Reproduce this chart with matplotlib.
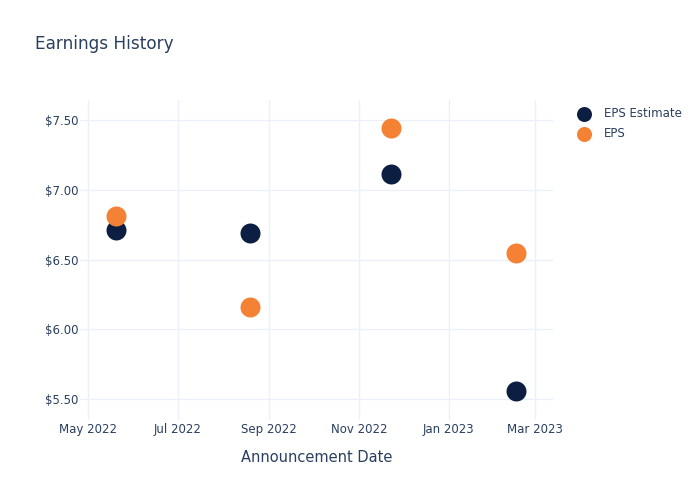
import matplotlib
matplotlib.use("Agg")
import matplotlib.pyplot as plt
import matplotlib.dates as mdates
import numpy as np
from datetime import datetime

# Announcement dates and EPS values
dates = ["2022-05-20", "2022-08-19", "2022-11-23", "2023-02-16"]
eps_estimate = [6.71, 6.69, 7.11, 5.56]
eps_actual = [6.81, 6.16, 7.44, 6.55]

x_dates = [datetime.strptime(d, "%Y-%m-%d") for d in dates]

text_color = "#2a3f5f"
grid_color = "#ebf0f8"
navy = "#0c1f42"
orange = "#f58134"

fig = plt.figure(figsize=(7, 5), dpi=100)
ax = fig.add_axes([80 / 700, 1 - 420 / 500, (553 - 80) / 700, 320 / 500])

ax.scatter(x_dates, eps_estimate, s=14.4 ** 2, color=navy, label="EPS Estimate", zorder=3, linewidths=0)
ax.scatter(x_dates, eps_actual, s=14.4 ** 2, color=orange, label="EPS", zorder=3, linewidths=0)

ax.set_xlim(datetime(2022, 4, 25, 10), datetime(2023, 3, 13))
ax.set_ylim(5.352, 7.643)
ax.set_yticks([5.5, 6.0, 6.5, 7.0, 7.5])
ax.yaxis.set_major_formatter(plt.FuncFormatter(lambda v, p: f"${v:.2f}"))
ax.xaxis.set_major_locator(mdates.MonthLocator(bymonth=[1, 3, 5, 7, 9, 11]))
ax.xaxis.set_major_formatter(mdates.DateFormatter("%b %Y"))

for s in ax.spines.values():
    s.set_visible(False)
ax.grid(True, color=grid_color, linewidth=1)
ax.set_axisbelow(True)
ax.tick_params(length=0, colors=text_color, labelsize=8.5)
ax.tick_params(axis="y", pad=1)
ax.tick_params(axis="x", pad=2.5)

ax.set_xlabel("Announcement Date", color=text_color, fontsize=10.5, labelpad=10)
fig.text(35 / 700, 1 - 44 / 500, "Earnings History", color=text_color, fontsize=12.2, va="center")

leg = ax.legend(loc="upper left", bbox_to_anchor=(1.026, 1.0), frameon=False,
                fontsize=8.5, labelcolor=text_color, handletextpad=0.7,
                labelspacing=0.6, markerscale=0.75, borderaxespad=0.2)

fig.savefig("out.png", dpi=100)
